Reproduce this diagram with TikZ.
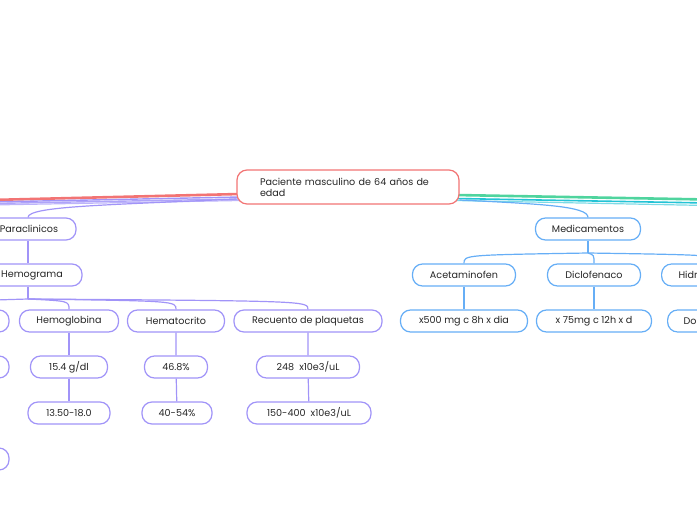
\documentclass[tikz,border=0pt]{standalone}
\usepackage{fontspec}
\setmainfont{Poppins}
\usetikzlibrary{positioning,calc}

\definecolor{rootred}{HTML}{F27474}
\definecolor{parapurple}{HTML}{A194F8}
\definecolor{medblue}{HTML}{66AEF6}
\definecolor{brgreen}{HTML}{4FD49E}
\definecolor{brteal}{HTML}{24C3D5}
\definecolor{inktext}{HTML}{262626}

\tikzset{
  topic/.style={draw, rounded corners=10pt, line width=1.2pt, fill=white,
    minimum height=22pt, inner sep=2pt, font=\fontsize{9.6}{11}\selectfont,
    text=inktext},
  parabox/.style={topic, draw=parapurple},
  medbox/.style={topic, draw=medblue},
  paralink/.style={draw=parapurple, line width=1.2pt},
  medlink/.style={draw=medblue, line width=1.2pt}
}

\begin{document}
\begin{tikzpicture}[x=1pt, y=-1pt]
    \useasboundingbox (0,0) rectangle (697,520);
    \clip (0,0) rectangle (697,520);
    % Main branches running off the page
    \draw[rootred, line width=2.6pt] (240,194) -- (-10,200);
    \draw[parapurple, line width=1.4pt] (240,197) -- (-10,202);
    \draw[parapurple!85, line width=1.4pt] (240,199) -- (-10,203.5);
    \draw[parapurple!70, line width=1.2pt] (240,200.5) -- (-10,205);
    \draw[brgreen, line width=2.6pt] (455,195) -- (707,199.5);
    \draw[brteal, line width=1.6pt] (455,198.5) -- (707,203);
    \draw[brteal!60, line width=1.2pt] (455,200.5) -- (707,205.5);
    % Central topic
    \node[topic, draw=rootred, minimum width=222pt, minimum height=34pt,
      text width=176pt, inner xsep=23pt, align=left] (root) at (348,187)
      {Paciente masculino de 64 años de\\edad};
    % Paraclinicos branch
    \node[parabox, minimum width=94pt] (paraclin) at (29,229) {Paraclinicos};
    \node[parabox, minimum width=100pt] (hemograma) at (32,275) {Hemograma};
    \node[parabox, minimum width=98pt] (hidden1) at (-40,321) {};
    \node[parabox, minimum width=99pt] (hemoglob) at (69,321) {Hemoglobina};
    \node[parabox, minimum width=97pt] (hematocr) at (176,321) {Hematocrito};
    \node[parabox, minimum width=148pt] (plaquetas) at (308,321) {Recuento de plaquetas};
    \node[parabox, minimum width=98pt] (hidden2) at (-40,367) {};
    \node[parabox, minimum width=77pt] (hbvalor) at (69,367) {15.4 g/dl};
    \node[parabox, minimum width=63pt] (htovalor) at (176,367) {46.8\%};
    \node[parabox, minimum width=103pt] (plqvalor) at (308,367) {248\ \ x10e3/uL};
    \node[parabox, minimum width=82pt] (hbrango) at (69,413) {13.50-18.0};
    \node[parabox, minimum width=70pt] (htorango) at (177,413) {40-54\%};
    \node[parabox, minimum width=124pt] (plqrango) at (309,413) {150-400\ \ x10e3/uL};
    \node[parabox, minimum width=98pt] (hidden3) at (-40,459) {};
    % Medicamentos branch
    \node[medbox, minimum width=105pt] (medic) at (588,229) {Medicamentos};
    \node[medbox, minimum width=103pt] (acetamin) at (464,275) {Acetaminofen};
    \node[medbox, minimum width=93pt] (diclofen) at (594,275) {Diclofenaco};
    \node[medbox, anchor=west, text width=80pt, inner xsep=17pt, align=left] (hidro) at (661,275) {Hidr};
    \node[medbox, minimum width=127pt] (acedosis) at (464,321) {x500 mg c 8h x dia};
    \node[medbox, minimum width=115pt] (dicdosis) at (594,321) {x 75mg c 12h x d};
    \node[medbox, anchor=west, text width=80pt, inner xsep=16pt, align=left] (hidrodosis) at (667,321) {Do};
    % Links from the central topic
    \draw[paralink] (root.west |- 0,199) .. controls (110,205) and (28,206) .. (paraclin.north -| 28,0);
    \draw[medlink] (root.east |- 0,200) .. controls (540,204) and (588,206) .. (medic.north);
    % Paraclinicos links
    \coordinate (hemojoin) at (28,299);
    \draw[paralink] (paraclin.south -| hemojoin) -- (hemograma.north -| hemojoin);
    \draw[paralink] (hemograma.south -| hemojoin) -- (hemojoin);
    \foreach \kid in {hidden1, hemoglob, hematocr, plaquetas}
      \draw[paralink] (hemojoin) .. controls ($(\kid.north |- hemojoin)+(0,2)$) .. (\kid.north);
    \draw[paralink] (hidden1) -- (hidden2);
    \draw[paralink] (hemoglob) -- (hbvalor) -- (hbrango);
    \draw[paralink] (hematocr) -- (htovalor) -- (htorango);
    \draw[paralink] (plaquetas) -- (plqvalor) -- (plqrango);
    % Medicamentos links
    \coordinate (medjoin) at (588,253);
    \draw[medlink] (medic.south) -- (medjoin);
    \foreach \kid in {acetamin, diclofen, hidro}
      \draw[medlink] (medjoin) .. controls ($(\kid.north |- medjoin)+(0,2)$) .. (\kid.north);
    \draw[medlink] (acetamin) -- (acedosis);
    \draw[medlink] (diclofen) -- (dicdosis);
    \draw[medlink] (hidro.south -| 716,0) -- (hidrodosis.north -| 716,0);
\end{tikzpicture}
\end{document}
